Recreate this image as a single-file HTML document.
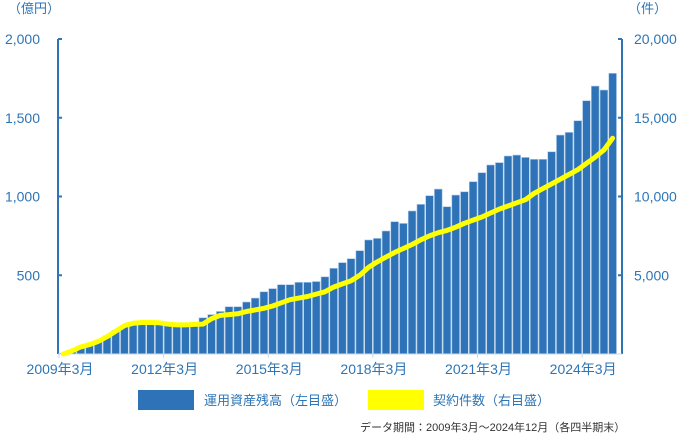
<!DOCTYPE html>
<html><head><meta charset="utf-8"><style>
body{margin:0;background:#fff;}
svg text{font-family:"Liberation Sans","Noto Sans CJK JP",sans-serif;}
</style></head><body>
<svg id="chart" width="689" height="443" viewBox="0 0 689 443" xmlns="http://www.w3.org/2000/svg">
<text x="8" y="13" font-size="13" fill="#2e75b6">（億円）</text>
<text x="628" y="13" font-size="13" fill="#2e75b6">（件）</text>
<g id="bars"></g>
<g id="axes"></g>
<path id="line" fill="none" stroke="#ffff00" stroke-width="5" stroke-linejoin="round" stroke-linecap="round"/>
<rect x="138" y="390" width="56" height="20" fill="#2e73b8"/>
<text x="204" y="405" font-size="13" fill="#2e75b6">運用資産残高（左目盛）</text>
<rect x="368" y="390" width="56" height="20" fill="#ffff00"/>
<text x="433" y="405" font-size="13" fill="#2e75b6">契約件数（右目盛）</text>
<text x="360" y="431" font-size="11" fill="#333">データ期間：2009年3月～2024年12月（各四半期末）</text>
</svg>
<script>
const assets=[5,20,40,60,85,115,150,180,195,195,195,195,190,185,185,190,230,250,270,300,300,330,355,395,415,440,440,455,455,460,490,544,580,605,656,724,734,781,840,829,908,950,1005,1047,935,1009,1030,1094,1151,1200,1215,1257,1263,1248,1236,1236,1284,1390,1407,1481,1608,1701,1676,1782];
const contracts=[0,200,450,600,800,1100,1450,1800,1950,2000,2000,1980,1900,1850,1850,1880,1900,2250,2450,2500,2550,2700,2800,2900,3050,3250,3450,3550,3650,3800,3950,4250,4450,4650,5000,5500,5850,6150,6450,6700,6950,7250,7500,7700,7850,8050,8300,8500,8700,8950,9200,9400,9600,9800,10200,10500,10800,11100,11400,11700,12100,12500,12950,13700];
const leftTicks=[500,1000,1500,2000];
const leftTickLabels=["500","1,000","1,500","2,000"];
const rightTicks=[5000,10000,15000,20000];
const rightTickLabels=["5,000","10,000","15,000","20,000"];
const xTickIdx=[0,12,24,36,48,60];
const xTickLabels=["2009年3月","2012年3月","2015年3月","2018年3月","2021年3月","2024年3月"];
const NS="http://www.w3.org/2000/svg";
const X0=59,X1=617,Y0=354,YT=39,n=assets.length,bw=(X1-X0)/n;
const xs=i=>X0+i*bw, yL=v=>Y0-v/2000*(Y0-YT), yR=v=>Y0-v/20000*(Y0-YT);
const C="#2e75b6";
function mk(tag,attrs,parent){const e=document.createElementNS(NS,tag);for(const k in attrs)e.setAttribute(k,attrs[k]);parent.appendChild(e);return e;}
const bars=document.getElementById('bars'),axes=document.getElementById('axes');
assets.forEach((v,i)=>{
 const r=mk('rect',{x:xs(i)+0.5,y:yL(v),width:bw-1,height:Y0-yL(v),fill:'#2e73b8',stroke:'#a9c7e6','stroke-width':0.6},bars);
 
 
});
let l=mk('line',{x1:58,y1:YT,x2:58,y2:Y0,stroke:C,'stroke-width':2},axes);


l=mk('line',{x1:622,y1:YT,x2:622,y2:Y0,stroke:C,'stroke-width':2},axes);


l=mk('line',{x1:58,y1:Y0,x2:622,y2:Y0,stroke:'#c8d8ea','stroke-width':1},axes);


leftTicks.forEach((v,i)=>{
 mk('line',{x1:58,y1:yL(v),x2:62,y2:yL(v),stroke:C,'stroke-width':2},axes);
 const t=mk('text',{x:40,y:yL(v)+5,'font-size':14,fill:C,'text-anchor':'end'},axes);
 t.textContent=leftTickLabels[i];
 
 
});
rightTicks.forEach((v,i)=>{
 mk('line',{x1:618,y1:yR(v),x2:622,y2:yR(v),stroke:C,'stroke-width':2},axes);
 const t=mk('text',{x:634,y:yR(v)+5,'font-size':14,fill:C},axes);
 t.textContent=rightTickLabels[i];
 
 
});
xTickIdx.forEach((idx,i)=>{
 const x=xs(idx);
 mk('line',{x1:x,y1:Y0,x2:x,y2:Y0+4,stroke:'#c8d8ea','stroke-width':1},axes);
 const t=mk('text',{x:x+1,y:374,'font-size':14,fill:C,'text-anchor':'middle'},axes);
 t.textContent=xTickLabels[i];
 
 
});
document.getElementById('line').setAttribute('d',contracts.map((v,i)=>(i?'L':'M')+(xs(i)+bw/2).toFixed(1)+' '+yR(v).toFixed(1)).join(' '));
</script>
</body></html>
